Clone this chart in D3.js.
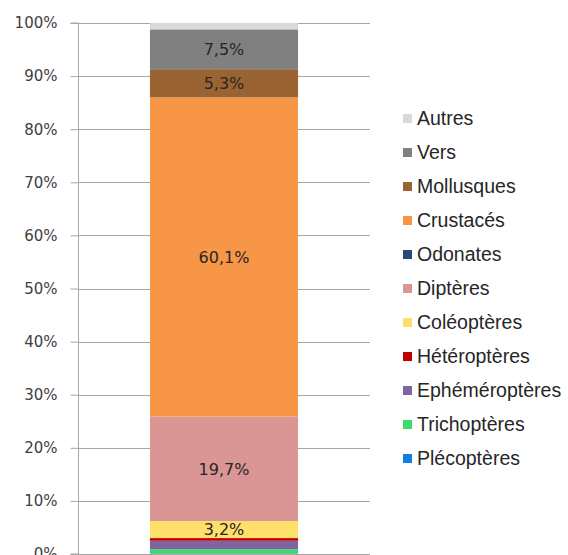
<!DOCTYPE html>
<html>
<head>
<meta charset="utf-8">
<script src="https://cdn.jsdelivr.net/npm/d3@7"></script>
<style>
  body { margin: 0; background: #fff; }
  svg { display: block; }
</style>
</head>
<body>
<svg id="chart" width="568" height="555"></svg>
<script>
// bottom to top stacking order
const categories = [`Plécoptères`, `Trichoptères`, `Ephéméroptères`, `Hétéroptères`, `Coléoptères`,
    `Diptères`, `Odonates`, `Crustacés`, `Mollusques`, `Vers`, `Autres`];
const values = [0.1, 0.8, 1.6, 0.5, 3.2, 19.7, 0.0, 60.1, 5.3, 7.5, 1.2];
const colors = [`#0f7fe0`, `#3fd96b`, `#8064a2`, `#c00000`, `#ffdf6b`,
    `#d99694`, `#264b7a`, `#f79646`, `#9a6432`, `#808080`, `#d9d9d9`];
const labels = [``, ``, ``, ``, `3,2%`, `19,7%`, ``, `60,1%`, `5,3%`, `7,5%`, ``];
const yTicks = [0, 10, 20, 30, 40, 50, 60, 70, 80, 90, 100];
const group = [`Total`];

const svg = d3.select(`#chart`);

const y = d3.scaleLinear().domain([0, 100]).range([554, 23]);
const x = d3.scaleBand().domain(group).range([78, 370]).padding(0.327);

// gridlines
svg.append(`g`)
    .selectAll(`line`)
    .data(yTicks)
    .join(`line`)
    .attr(`x1`, 78)
    .attr(`x2`, 370)
    .attr(`y1`, d => Math.round(y(d)) + 0.5)
    .attr(`y2`, d => Math.round(y(d)) + 0.5)
    .attr(`stroke`, `#a6a6a6`)
    .attr(`stroke-width`, 1);

// stacked segments
let acc = 0;
const segs = values.map((v, i) => {
    const s = { name: categories[i], y0: acc, y1: acc + v, color: colors[i], label: labels[i] };
    acc += v;
    return s;
});

svg.append(`g`)
    .selectAll(`rect`)
    .data(segs.filter(d => d.y1 > d.y0))
    .join(`rect`)
    .attr(`x`, x(`Total`))
    .attr(`width`, x.bandwidth())
    .attr(`y`, d => y(d.y1))
    .attr(`height`, d => y(d.y0) - y(d.y1))
    .attr(`fill`, d => d.color);

svg.append(`g`)
    .selectAll(`text`)
    .data(segs.filter(d => d.label))
    .join(`text`)
    .attr(`x`, x(`Total`) + x.bandwidth() / 2)
    .attr(`y`, d => y((d.y0 + d.y1) / 2))
    .attr(`dy`, `0.36em`)
    .attr(`text-anchor`, `middle`)
    .attr(`font-family`, `DejaVu Sans, Verdana, sans-serif`)
    .attr(`font-size`, 16)
    .attr(`fill`, `#262626`)
    .text(d => d.label);

// y axis
const yAxis = d3.axisLeft(y)
    .tickValues(yTicks)
    .tickFormat(d => `${d}%`)
    .tickSize(8)
    .tickPadding(13);

const ax = svg.append(`g`)
    .attr(`transform`, `translate(78.5,0)`)
    .call(yAxis);
ax.select(`.domain`).attr(`stroke`, `#a6a6a6`).attr(`d`, `M-8,${y(100)}H0V${y(0)}H-8`);
ax.selectAll(`.tick line`).attr(`stroke`, `#a6a6a6`);
ax.selectAll(`.tick text`)
    .attr(`font-family`, `DejaVu Sans, Verdana, sans-serif`)
    .attr(`font-size`, 15)
    .attr(`fill`, `#404040`);

// legend (top to bottom)
const legendItems = segs.slice().reverse();
const legend = svg.append(`g`)
    .selectAll(`g`)
    .data(legendItems)
    .join(`g`)
    .attr(`transform`, (d, i) => `translate(403, ${118 + i * 34})`);

legend.append(`rect`)
    .attr(`x`, 0)
    .attr(`y`, -4)
    .attr(`width`, 9)
    .attr(`height`, 9)
    .attr(`fill`, d => d.color);

legend.append(`text`)
    .attr(`x`, 14)
    .attr(`y`, 0)
    .attr(`dy`, `0.36em`)
    .attr(`font-family`, `Liberation Sans, Arial, sans-serif`)
    .attr(`font-size`, 19.5)
    .attr(`fill`, `#262626`)
    .text(d => d.name);
</script>
</body>
</html>
